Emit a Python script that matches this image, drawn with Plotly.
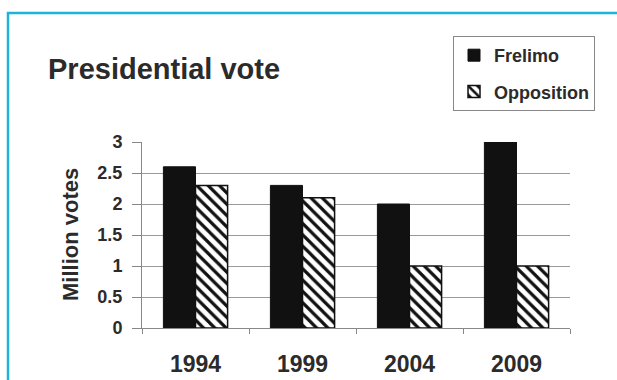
import plotly.graph_objects as go

years = ["1994", "1999", "2004", "2009"]
frelimo = [2.6, 2.3, 2.0, 3.0]
opposition = [2.3, 2.1, 1.0, 1.0]
y_ticks = [0, 0.5, 1, 1.5, 2, 2.5, 3]
y_tick_labels = ["0", "0.5", "1", "1.5", "2", "2.5", "3"]

FONT = "Liberation Sans, Arial, sans-serif"
TXT = "#2b2b2b"

fig = go.Figure()
fig.add_trace(go.Bar(
    x=years, y=frelimo, name="Frelimo", legendgroup="a",
    marker=dict(color="#111111", line=dict(color="#111111", width=1)),
))
fig.add_trace(go.Bar(
    x=years, y=opposition, name="Opposition", legendgroup="b",
    marker=dict(color="white", line=dict(color="#111111", width=1.5),
                pattern=dict(shape="\\", fgcolor="#111111", bgcolor="white",
                             size=8, solidity=0.4, fillmode="replace")),
))

fig.update_layout(
    width=617, height=380,
    margin=dict(l=142, r=47, t=142, b=52),
    paper_bgcolor="white", plot_bgcolor="white",
    barmode="group", bargap=0.4, bargroupgap=0,
    font=dict(family=FONT, color=TXT, size=16, weight="bold"),
    showlegend=True,
    legend=dict(x=(453 - 142) / 428, y=(328 - 36) / 186, xanchor="left", yanchor="top",
                bordercolor="#888888", borderwidth=1, bgcolor="white",
                font=dict(size=18, family=FONT, color=TXT, weight="bold"),
                traceorder="grouped", tracegroupgap=10,
                itemwidth=30),
    xaxis=dict(showgrid=False, showline=True, linecolor="#888888", linewidth=1,
               ticks="outside", tickson="boundaries", ticklen=5, tickcolor="#888888",
               ticklabelstandoff=15, automargin=False,
               tickfont=dict(size=23, family=FONT, color=TXT, weight="bold")),
    yaxis=dict(range=[0, 3], tickvals=y_ticks, ticktext=y_tick_labels,
               showgrid=True, gridcolor="#9a9a9a", gridwidth=1.3,
               showline=True, linecolor="#888888", linewidth=1,
               ticks="outside", ticklen=9, tickcolor="#888888",
               ticklabelstandoff=6, automargin=False,
               tickfont=dict(size=18, family=FONT, color=TXT, weight="bold"),
               zeroline=False),
    annotations=[
        dict(text="Presidential vote", xref="paper", yref="paper",
             x=(46 - 142) / 428, y=(328 - 69) / 186, xanchor="left", yanchor="middle",
             showarrow=False, font=dict(size=29, family=FONT, color=TXT, weight="bold")),
        dict(text="Million votes", xref="paper", yref="paper",
             x=(70 - 142) / 428, y=(328 - 235) / 186, xanchor="center", yanchor="middle",
             textangle=-90, showarrow=False,
             font=dict(size=22, family=FONT, color=TXT, weight="bold")),
    ],
    shapes=[
        dict(type="rect", xref="paper", yref="paper",
             x0=(8 - 142) / 428, x1=(640 - 142) / 428,
             y0=(328 - 400) / 186, y1=(328 - 13) / 186,
             line=dict(color="#1cb5d9", width=2.5), fillcolor="rgba(0,0,0,0)", layer="below"),
    ],
)

fig.write_html("out.html")
